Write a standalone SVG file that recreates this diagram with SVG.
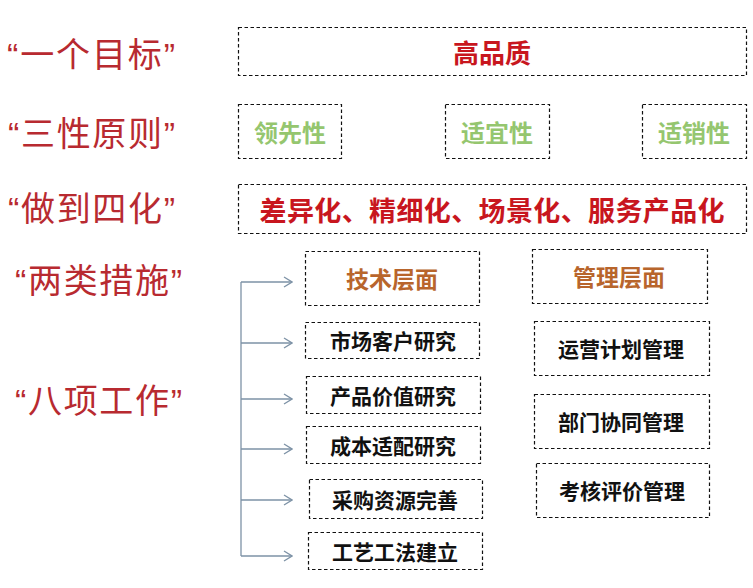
<svg xmlns="http://www.w3.org/2000/svg" width="753" height="588" viewBox="0 0 753 588">
<defs>
<style>
.box{fill:#fff;stroke:#111;stroke-width:1.2;stroke-dasharray:3.5 2.5}
.lab{font-family:"Liberation Sans","Noto Sans CJK SC",sans-serif;font-size:34px;fill:#b82a30;dominant-baseline:central}
.t{font-family:"Noto Sans CJK SC",sans-serif;font-weight:bold;text-anchor:middle;dominant-baseline:central}
.red{fill:#c8161e}
.green{fill:#95c66f;font-size:24px}
.brown{fill:#b8652c;font-size:23px}
.blk{fill:#111;font-size:21px}
.conn{fill:none;stroke:#7d92a6;stroke-width:1.3}
</style>
<marker id="arr" viewBox="0 0 10 12" refX="9" refY="6" markerWidth="10" markerHeight="12" markerUnits="userSpaceOnUse" orient="auto">
<path d="M1,1 L9,6 L1,11" fill="none" stroke="#7d92a6" stroke-width="1.3"/>
</marker>
</defs>
<rect width="753" height="588" fill="#fff"/>
<g id="labels">
<text class="lab" x="7" y="55" textLength="168" lengthAdjust="spacing">“一个目标”</text>
<text class="lab" x="8" y="134" textLength="167" lengthAdjust="spacing">“三性原则”</text>
<text class="lab" x="8" y="209" textLength="167" lengthAdjust="spacing">“做到四化”</text>
<text class="lab" x="15" y="281" textLength="167" lengthAdjust="spacing">“两类措施”</text>
<text class="lab" x="15" y="401" textLength="167" lengthAdjust="spacing">“八项工作”</text>
</g>
<g id="n-goal"><rect class="box" x="238.5" y="27.5" width="508" height="48"/><text class="t red" x="492" y="51" font-size="26">高品质</text></g>
<g id="n-lead"><rect class="box" x="238.5" y="104.5" width="103" height="54"/><text class="t green" x="290" y="131">领先性</text></g>
<g id="n-fit"><rect class="box" x="445.5" y="104.5" width="104" height="54"/><text class="t green" x="497" y="131">适宜性</text></g>
<g id="n-sell"><rect class="box" x="642.5" y="104.5" width="104" height="54"/><text class="t green" x="694" y="131">适销性</text></g>
<g id="n-four"><rect class="box" x="238.5" y="184.5" width="508" height="49"/><text class="t red" x="492" y="209" font-size="27" textLength="465" lengthAdjust="spacing">差异化、精细化、场景化、服务产品化</text></g>
<g id="n-tech"><rect class="box" x="305.5" y="251.5" width="174" height="54"/><text class="t brown" x="392" y="278">技术层面</text></g>
<g id="n-mgmt"><rect class="box" x="532.5" y="249.5" width="175" height="54"/><text class="t brown" x="619" y="276">管理层面</text></g>
<g id="n-t1"><rect class="box" x="305.5" y="322.5" width="174" height="36"/><text class="t blk" x="393" y="340">市场客户研究</text></g>
<g id="n-t2"><rect class="box" x="306.5" y="376.5" width="174" height="37"/><text class="t blk" x="393" y="395">产品价值研究</text></g>
<g id="n-t3"><rect class="box" x="306.5" y="426.5" width="174" height="37"/><text class="t blk" x="393" y="445">成本适配研究</text></g>
<g id="n-t4"><rect class="box" x="309.5" y="479.5" width="173" height="39"/><text class="t blk" x="395" y="499">采购资源完善</text></g>
<g id="n-t5"><rect class="box" x="308.5" y="532.5" width="174" height="37"/><text class="t blk" x="395" y="551">工艺工法建立</text></g>
<g id="n-m1"><rect class="box" x="534.5" y="321.5" width="175" height="54"/><text class="t blk" x="621" y="348">运营计划管理</text></g>
<g id="n-m2"><rect class="box" x="534.5" y="394.5" width="175" height="54"/><text class="t blk" x="621" y="421">部门协同管理</text></g>
<g id="n-m3"><rect class="box" x="536.5" y="463.5" width="173" height="54"/><text class="t blk" x="622" y="490">考核评价管理</text></g>
<g id="connectors">
<path class="conn" d="M241,282 V556"/>
<path class="conn" d="M241,282 H292" marker-end="url(#arr)"/>
<path class="conn" d="M241,343 H292" marker-end="url(#arr)"/>
<path class="conn" d="M241,399 H292" marker-end="url(#arr)"/>
<path class="conn" d="M241,449 H292" marker-end="url(#arr)"/>
<path class="conn" d="M241,500 H292" marker-end="url(#arr)"/>
<path class="conn" d="M241,556 H292" marker-end="url(#arr)"/>
</g>
</svg>
